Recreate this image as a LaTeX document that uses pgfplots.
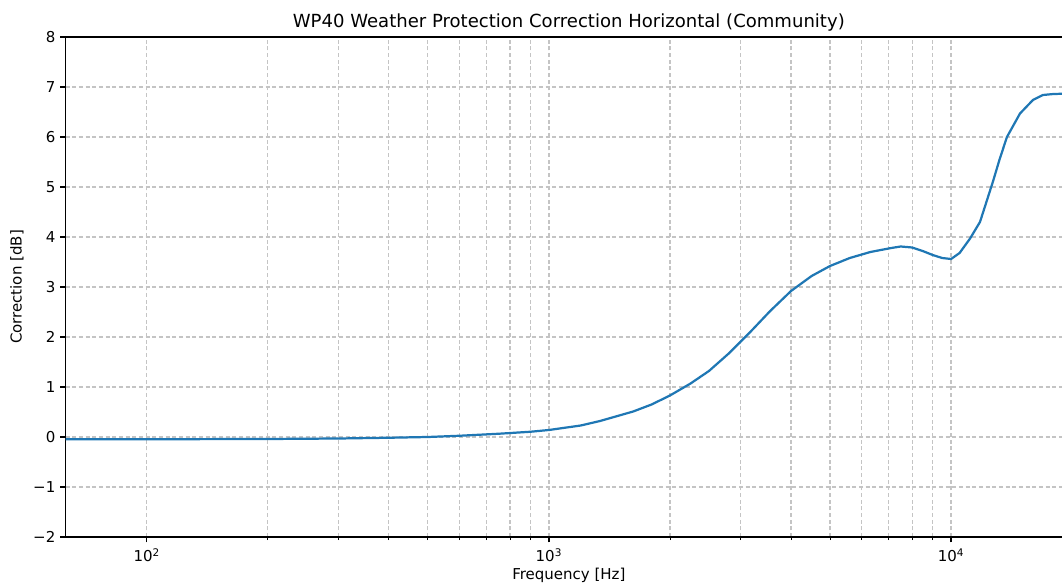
\documentclass[border=0pt]{standalone}
\usepackage{fontspec}
\setmainfont{DejaVu Sans}
\usepackage{pgfplots}
\pgfplotsset{compat=1.18}
\definecolor{mplblue}{HTML}{1F77B4}
\definecolor{gridgray}{RGB}{196,196,196}
\begin{document}
\begin{tikzpicture}
\path[use as bounding box] (-47.16pt,-33.12pt) rectangle (717.48pt,386.64pt);
\begin{axis}[
  at={(0pt,0pt)}, anchor=south west,
  xmode=log, scale only axis, width=724.75pt, height=360pt,
  xmin=62.8, xmax=20000, ymin=-2, ymax=8,
  ytick={-2,-1,0,1,2,3,4,5,6,7,8},
  yticklabels={−2,−1,0,1,2,3,4,5,6,7,8},
  xtick={100,1000,10000},
  xticklabels={10\textsuperscript{2},10\textsuperscript{3},10\textsuperscript{4}},
  tick align=outside, tick pos=left,
  major tick length=3.8pt, minor tick length=2.2pt,
  every tick/.style={black, line width=0.85pt},
  every minor tick/.style={black, line width=0.65pt},
  xmajorgrids, xminorgrids, ymajorgrids,
  major grid style={gridgray, line width=0.85pt, dash pattern=on 2.9pt off 1.9pt},
  minor grid style={gridgray, line width=0.85pt, dash pattern=on 2.9pt off 1.9pt},
  axis line style={line width=0.85pt},
  title={WP40 Weather Protection Correction Horizontal (Community)},
  title style={font=\fontsize{13}{15}\selectfont, yshift=-5.3pt},
  xlabel={Frequency [Hz]}, ylabel={Correction [dB]},
  xlabel style={yshift=2.2pt},
  xticklabel style={yshift=-1pt},
  label style={font=\fontsize{10.8}{13}\selectfont},
  tick label style={font=\fontsize{10.8}{13}\selectfont},
]
\addplot[mplblue, line width=1.6pt] coordinates {
(62.8,-0.045) (100,-0.045) (200,-0.04) (300,-0.03) (400,-0.015) (500,0.0)
(600,0.025) (750,0.065) (900,0.105) (1000,0.14) (1200,0.23) (1340,0.32)
(1620,0.51) (1800,0.65) (2000,0.83) (2250,1.07) (2500,1.32) (2800,1.67)
(3150,2.08) (3550,2.52) (4000,2.92) (4500,3.22) (5000,3.42) (5600,3.58)
(6300,3.70) (7100,3.78) (7500,3.81) (8000,3.79) (8500,3.72) (9000,3.64)
(9500,3.58) (10000,3.56) (10500,3.68) (11150,3.97) (11800,4.30) (12700,5.10)
(13200,5.55) (13770,6.00) (14840,6.47) (15980,6.74) (16920,6.84) (18000,6.86)
(20000,6.87)
};
\end{axis}
\end{tikzpicture}
\end{document}
